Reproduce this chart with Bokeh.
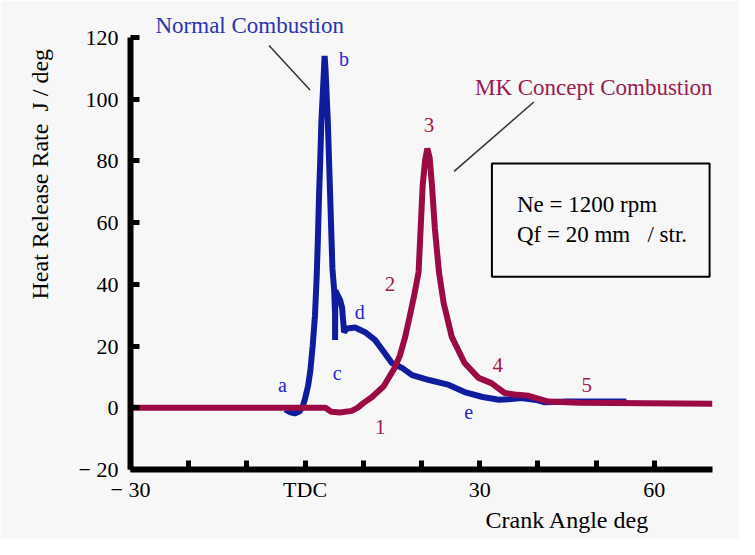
from bokeh.plotting import figure
from bokeh.models import FixedTicker, Label, BoxAnnotation, Title
from bokeh.embed import file_html
from bokeh.resources import INLINE

# ---- data (crank angle deg, heat release rate J/deg) ----
normal_x = [-3.4, -2.5, -1.8, -1.0, -0.4, 0.0, 0.5, 0.9, 1.3, 1.7, 2.0, 2.2, 2.4, 2.6, 2.8, 3.1, 3.35,
            3.5, 3.9, 4.3, 4.7, 5.0, 5.15, 5.15, 5.2, 6.0, 6.35, 6.7, 7.2, 8.6, 10.3, 12.0, 13.7, 14.9,
            16.6, 18.4, 21.3, 24.7, 27.4, 30.5, 33.3, 35.0, 37.2, 40.0, 41.2, 45.0, 55.2]
normal_y = [-0.5, -1.5, -1.8, -1.2, 0.5, 3.0, 7.0, 12.0, 20.0, 30.0, 43.0, 55.0, 69.0, 80.0, 93.0, 104.0, 114.0,
            110.0, 93.0, 69.0, 45.0, 38.0, 30.0, 22.0, 38.0, 35.0, 32.5, 24.5, 25.7, 26.0, 24.5, 22.0, 17.7, 14.5,
            13.0, 10.6, 9.0, 7.4, 5.1, 3.5, 2.6, 2.8, 3.2, 2.4, 1.8, 2.0, 2.0]

mk_x = [-30, 3.5, 4.5, 6.0, 8.0, 9.0, 10.0, 11.5, 13.5, 15.4, 16.3, 17.2, 17.9, 18.7, 19.5, 19.9, 20.2, 20.6,
        21.0, 21.4, 21.8, 22.3, 23.0, 23.8, 25.2, 27.4, 29.8, 32.0, 34.3, 36.0, 38.4, 41.8, 47.0, 70.0]
mk_y = [0.0, 0.0, -1.3, -1.5, -1.0, 0.0, 1.5, 3.5, 7.0, 13.0, 17.0, 23.0, 29.0, 36.0, 44.0, 60.0, 72.0, 80.0,
        84.0, 81.0, 72.0, 58.0, 44.0, 34.0, 23.0, 14.5, 9.7, 8.0, 4.8, 4.3, 3.9, 2.0, 1.6, 1.3]

x_ticks = [-30, -20, -10, 0, 10, 20, 30, 40, 50, 60]
x_tick_labels = {-30: "\u2212 30", -20: "", -10: "", 0: "TDC", 10: "", 20: "", 30: "30", 40: "", 50: "", 60: "60"}
y_ticks = [-20, 0, 20, 40, 60, 80, 100, 120]
y_tick_labels = {-20: "\u2212 20"}

point_labels_normal = ["a", "b", "c", "d", "e"]
point_labels_normal_x = [-3.9, 6.7, 5.5, 9.4, 28.1]
point_labels_normal_y = [7.4, 113.0, 11.3, 30.9, -1.3]
point_labels_mk = ["1", "2", "3", "4", "5"]
point_labels_mk_x = [12.9, 14.6, 21.3, 33.1, 48.4]
point_labels_mk_y = [-6.1, 40.2, 91.7, 13.8, 7.4]

FONT = "Liberation Serif"
BLUE = "#101c9e"
RED = "#9c0a46"
BG = "#f7f7f7"
NB = "\u00a0"

p = figure(width=739, height=539, x_range=(-30, 70), y_range=(-20, 120),
           output_backend="svg", toolbar_location=None,
           min_border_left=130, min_border_right=27, min_border_top=37, min_border_bottom=70)
p.background_fill_color = BG
p.border_fill_color = BG
p.outline_line_color = None
p.grid.visible = False

# "Normal Combustion" caption above the frame (uses the plot title slot)
p.title.text = "Normal Combustion"
p.title.align = "left"
p.title.offset = 25
p.title.standoff = 0
p.title.text_font = FONT
p.title.text_font_size = "23px"
p.title.text_font_style = "normal"
p.title.text_color = "#2a34b0"

for ax in (p.xaxis[0], p.yaxis[0]):
    ax.axis_line_width = 6
    ax.axis_line_color = "black"
    ax.major_tick_in = 9
    ax.major_tick_out = 0
    ax.major_tick_line_width = 5
    ax.major_tick_line_color = "black"
    ax.minor_tick_line_color = None
    ax.major_label_text_font = FONT
    ax.major_label_text_font_size = "22px"
    ax.major_label_text_color = "black"

p.xaxis.ticker = FixedTicker(ticks=x_ticks)
p.xaxis.major_label_overrides = x_tick_labels
p.xaxis.major_label_standoff = 7
p.yaxis.ticker = FixedTicker(ticks=y_ticks)
p.yaxis.major_label_overrides = y_tick_labels
p.yaxis.major_label_standoff = 12

# axis titles placed as side titles so they can sit off-centre like the original
p.add_layout(Title(text="Crank Angle deg", align="left", offset=355, standoff=1,
                   text_font=FONT, text_font_size="24px", text_font_style="normal",
                   text_color="black"), "below")
p.add_layout(Title(text="Heat Release Rate" + NB + NB + "J / deg", align="left", offset=170, standoff=46,
                   text_font=FONT, text_font_size="24px", text_font_style="normal",
                   text_color="black"), "left")

p.line(normal_x, normal_y, line_width=6, line_color=BLUE)
p.line(mk_x, mk_y, line_width=6, line_color=RED)

# leader lines
p.line([-6.2, 0.85], [117.4, 103.0], line_width=1.5, line_color="#333333")
p.line([39.3, 25.6], [99.1, 76.6], line_width=1.5, line_color="#333333")

# condition box
p.add_layout(BoxAnnotation(left=32.1, right=69.5, bottom=42.5, top=79.2,
                           fill_alpha=0, line_color="black", line_alpha=1, line_width=2))

def add_label(x, y, text, color="black", size="23px", align="left"):
    p.add_layout(Label(x=x, y=y, text=text, text_font=FONT, text_font_size=size,
                       text_color=color, text_align=align, text_baseline="middle"))

add_label(36.4, 66.0, "Ne = 1200 rpm")
add_label(36.4, 56.3, "Qf = 20 mm" + NB + NB + NB + "/ str.")
add_label(49.6, 103.9, "MK Concept Combustion", color="#9a1a50", align="center")

for t, x, y in zip(point_labels_normal, point_labels_normal_x, point_labels_normal_y):
    add_label(x, y, t, color="#2525d0", size="20px", align="center")
for t, x, y in zip(point_labels_mk, point_labels_mk_x, point_labels_mk_y):
    add_label(x, y, t, color="#a01850", size="21px", align="center")

open("out.html", "w").write(file_html(p, INLINE))
